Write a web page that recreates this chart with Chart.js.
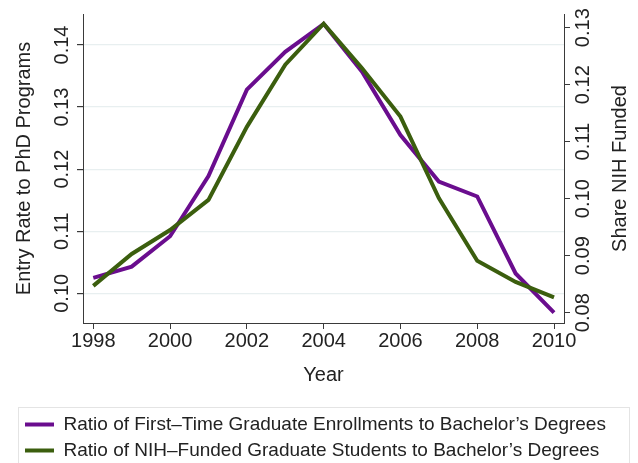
<!DOCTYPE html>
<html>
<head>
<meta charset="utf-8">
<script src="https://cdn.jsdelivr.net/npm/chart.js@4.4.1/dist/chart.umd.min.js"></script>
<style>
html,body{margin:0;padding:0;background:#fff;}
#wrap{width:638px;height:463px;position:relative;}
</style>
</head>
<body>
<div id="wrap"><canvas id="c"></canvas></div>
<script>
// ---- data ----
const years = [1998,1999,2000,2001,2002,2003,2004,2005,2006,2007,2008,2009,2010];
const entryRate = [0.1025,0.1043,0.1092,0.1189,0.1328,0.1389,0.1434,0.1357,0.1255,0.1180,0.1156,0.1032,0.0969];
const nihShare  = [0.0847,0.0903,0.0945,0.0998,0.1126,0.1235,0.1307,0.1229,0.1144,0.1001,0.0891,0.0854,0.0827];
const xTicks = [1998,2000,2002,2004,2006,2008,2010];
const leftTicks = [0.10,0.11,0.12,0.13,0.14];
const rightTicks = [0.08,0.09,0.10,0.11,0.12,0.13];
const seriesLabels = [
  'Ratio of First\u2013Time Graduate Enrollments to Bachelor\u2019s Degrees',
  'Ratio of NIH\u2013Funded Graduate Students to Bachelor\u2019s Degrees'
];
const xTitle = 'Year';
const leftTitle = 'Entry Rate to PhD Programs';
const rightTitle = 'Share NIH Funded';

const PURPLE = '#6a0d8e';
const GREEN = '#3b5e0e';
const TXT = '#222222';
const AXIS = '#3a3a3a';
const FONT = "'Liberation Sans', Arial, Helvetica, sans-serif";

Chart.defaults.font.family = FONT;
Chart.defaults.color = TXT;

const setTicks = arr => scale => { scale.ticks = arr.map(v => ({value: v})); };

const decor = {
  id: 'decor',
  beforeDraw(chart) {
    const lg = chart.legend;
    if (!lg) return;
    const ctx = chart.ctx;
    ctx.save();
    ctx.strokeStyle = '#e4e4e4';
    ctx.lineWidth = 1;
    ctx.strokeRect(lg.left + 0.5, lg.top - 0.5, lg.right - lg.left - 1, 200);
    ctx.restore();
  },
  afterDraw(chart) {
    const ctx = chart.ctx;
    const yL = chart.scales.y, yR = chart.scales.y2;
    ctx.save();
    ctx.fillStyle = TXT;
    ctx.font = '20px ' + FONT;
    ctx.textAlign = 'center';
    ctx.textBaseline = 'middle';
    const drawRot = (txt, x, y) => {
      ctx.save();
      ctx.translate(x, y);
      ctx.rotate(-Math.PI / 2);
      ctx.fillText(txt, 0, 0);
      ctx.restore();
    };
    yL.ticks.forEach(t => drawRot(t.value.toFixed(2), yL.right - 21, yL.getPixelForValue(t.value)));
    yR.ticks.forEach(t => drawRot(t.value.toFixed(2), yR.left + 19, yR.getPixelForValue(t.value)));
    drawRot(rightTitle, yR.left + 56, (chart.chartArea.top + chart.chartArea.bottom) / 2);
    ctx.restore();
  }
};

new Chart(document.getElementById('c'), {
  type: 'line',
  data: {
    datasets: [
      {
        label: seriesLabels[0],
        data: years.map((yr, i) => ({x: yr, y: entryRate[i]})),
        borderColor: PURPLE, backgroundColor: PURPLE,
        borderWidth: 4, pointRadius: 0, tension: 0,
        yAxisID: 'y', order: 1
      },
      {
        label: seriesLabels[1],
        data: years.map((yr, i) => ({x: yr, y: nihShare[i]})),
        borderColor: GREEN, backgroundColor: GREEN,
        borderWidth: 4, pointRadius: 0, tension: 0,
        yAxisID: 'y2', order: 0
      }
    ]
  },
  options: {
    responsive: true,
    maintainAspectRatio: false,
    animation: false,
    layout: {padding: {left: 18, right: 8, top: 14, bottom: 0}},
    plugins: {
      tooltip: {enabled: false},
      legend: {
        position: 'bottom',
        align: 'start',
        maxHeight: 55,
        labels: {
          boxWidth: 29, boxHeight: 4, padding: 7,
          font: {size: 19}, color: TXT,
          sort: (a, b) => a.datasetIndex - b.datasetIndex,
          generateLabels: chart => chart.data.datasets.map((d, i) => ({
            text: d.label, fillStyle: d.borderColor, strokeStyle: d.borderColor,
            lineWidth: 0, datasetIndex: i, hidden: false, fontColor: TXT
          }))
        }
      }
    },
    scales: {
      x: {
        type: 'linear', min: 1997.732, max: 2010.26,
        afterBuildTicks: setTicks(xTicks),
        afterFit: s => { s.height = 85; },
        grid: {drawOnChartArea: false, tickLength: 6, tickColor: AXIS},
        border: {color: AXIS, width: 1},
        ticks: {font: {size: 20}, color: TXT, padding: 0, maxRotation: 0, callback: v => String(v)},
        title: {display: true, text: xTitle, font: {size: 20, lineHeight: 1.2}, color: TXT, padding: {top: 0, bottom: 21}}
      },
      y: {
        position: 'left', min: 0.09522, max: 0.14499,
        afterBuildTicks: setTicks(leftTicks),
        afterFit: s => { s.width = 65; },
        grid: {color: '#e8eff0', lineWidth: 1.2, tickLength: 6, tickColor: AXIS},
        border: {color: AXIS, width: 1},
        ticks: {display: false},
        title: {display: true, text: leftTitle, font: {size: 20, lineHeight: 0.6}, color: TXT, padding: 0}
      },
      y2: {
        position: 'right', min: 0.07819, max: 0.1324,
        afterBuildTicks: setTicks(rightTicks),
        afterFit: s => { s.width = 66; },
        grid: {drawOnChartArea: false, tickLength: 6, tickColor: AXIS},
        border: {color: AXIS, width: 1},
        ticks: {display: false}
      }
    }
  },
  plugins: [decor]
});
</script>
</body>
</html>
